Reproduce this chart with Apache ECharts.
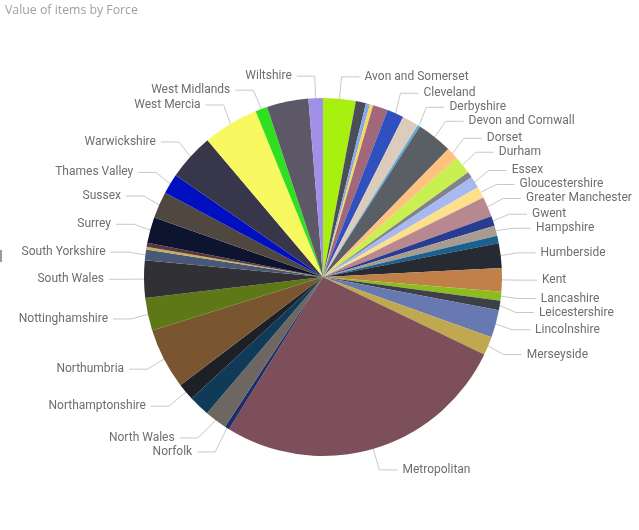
<!DOCTYPE html>
<html>
<head>
<meta charset="utf-8">
<script src="https://cdn.jsdelivr.net/npm/echarts@6/dist/echarts.min.js"></script>
<style>
html,body{margin:0;padding:0;background:#fff;}
#chart{width:639px;height:530px;}
</style>
</head>
<body>
<div id="chart"></div>
<script>
const forces = ["Avon and Somerset","Bedfordshire","Cambridgeshire","Cheshire","City of London","Cleveland","Cumbria","Derbyshire","Devon and Cornwall","Dorset","Durham","Dyfed-Powys","Essex","Gloucestershire","Greater Manchester","Gwent","Hampshire","Hertfordshire","Humberside","Kent","Lancashire","Leicestershire","Lincolnshire","Merseyside","Metropolitan","Norfolk","North Wales","North Yorkshire","Northamptonshire","Northumbria","Nottinghamshire","South Wales","South Yorkshire","Staffordshire","Suffolk","Surrey","Sussex","Thames Valley","Warwickshire","West Mercia","West Midlands","West Yorkshire","Wiltshire"];
const values = [10.6,3.3,1.3,1.1,4.9,5.4,5.4,0.8,11.6,3.9,5.9,1.9,3.8,3.7,6.6,3.2,3.3,2.4,8.0,7.6,2.9,3.1,9.0,6.0,96.0,1.5,7.2,6.8,5.6,19.8,10.7,12.1,3.4,0.9,1.3,8.4,8.7,6.5,15.2,18.1,3.9,13.5,4.7];
const hiddenLabels = ["Bedfordshire","Cambridgeshire","Cheshire","City of London","Cumbria","Dyfed-Powys","Hertfordshire","North Yorkshire","Staffordshire","Suffolk","West Yorkshire"];
const palette = ["#A8F010","#4A4E58","#8AA8E8","#F8D858","#A06878","#3050C0","#DCCCBC","#5AA8D8","#5A5F66","#FFC080","#C8F050","#808488","#A8B8F0","#FFE08A","#B88890","#283C90","#A89C90","#1A6090","#262A33","#C08048","#8CBC20","#3E4048","#6878B0","#C0A850","#7C4F5A","#1E2E6A","#6E6660","#0F3A58","#1E2028","#7A5630","#5E7818","#303035","#4A5878","#C0B060","#5A3840","#0C1430","#504840","#0010C0","#38364A","#F8F860","#30E020","#5C5868","#A090E8"];

const data = forces.map((n, i) => ({
  name: n,
  value: values[i],
  itemStyle: {color: palette[i]},
  label: {show: hiddenLabels.indexOf(n) < 0},
  labelLine: {show: hiddenLabels.indexOf(n) < 0}
}));

const chart = echarts.init(document.getElementById('chart'), null, {renderer: 'canvas'});
chart.setOption({
  animation: false,
  backgroundColor: '#fff',
  title: {
    text: 'Value of items by Force',
    left: 0, top: -1,
    textStyle: {fontFamily: 'Open Sans', fontSize: 12.3, fontWeight: 'normal', color: '#A0A0A0'}
  },
  graphic: [{type: 'rect', shape: {x: 0, y: 250, width: 2, height: 12}, style: {fill: '#9A9A9A'}}],
  series: [{
    type: 'pie',
    center: [323, 277],
    radius: 179,
    startAngle: 90,
    clockwise: true,
    avoidLabelOverlap: true,
    data: data,
    label: {
      fontFamily: 'Roboto', fontSize: 12, color: '#6E6E6E', distanceToLabelLine: 5,
      overflow: 'none', edgeDistance: 0
    },
    labelLine: {length: 22, length2: 18, lineStyle: {color: '#C8C8C8', width: 1}},
    emphasis: {disabled: true}
  }]
});
</script>
</body>
</html>
